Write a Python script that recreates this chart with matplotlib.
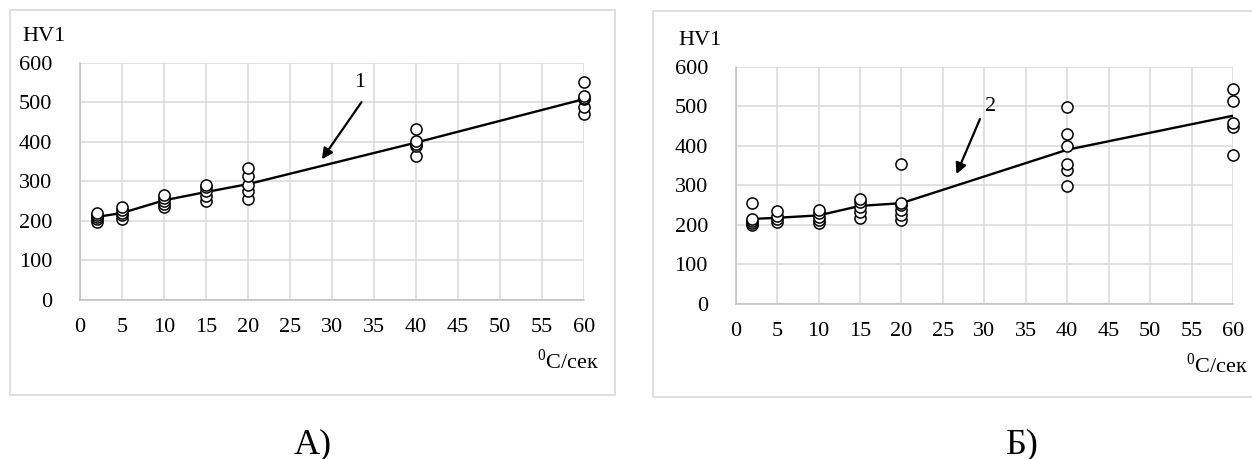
import matplotlib
matplotlib.use("Agg")
import matplotlib.pyplot as plt
from matplotlib.patches import Rectangle

plt.rcParams['font.family'] = ['serif']
plt.rcParams['font.serif'] = ['Liberation Serif', 'DejaVu Serif']
plt.rcParams['mathtext.fontset'] = 'custom'
plt.rcParams['mathtext.rm'] = 'Liberation Serif'

W, H = 1252, 459

# cooling rate, degC/sec
rates = [2, 5, 10, 15, 20, 40, 60]

# chart A: measured hardness at each rate and the mean curve
hv_a = [
    [198, 205, 210, 215, 220],
    [206, 215, 220, 228, 236],
    [236, 242, 250, 258, 265],
    [250, 262, 275, 285, 292],
    [255, 275, 292, 313, 333],
    [363, 390, 395, 402, 433],
    [470, 488, 508, 512, 517, 552],
]
mean_a = [210, 220, 252, 273, 293, 398, 508]

# chart B
hv_b = [
    [200, 205, 210, 215, 256],
    [208, 215, 222, 236],
    [205, 212, 220, 230, 238],
    [217, 233, 245, 257, 265],
    [212, 225, 238, 250, 255, 353],
    [299, 339, 354, 399, 430, 499],
    [377, 447, 457, 514, 543],
]
mean_b = [215, 218, 224, 248, 255, 390, 476]

xticks = list(range(0, 65, 5))
yticks = list(range(0, 700, 100))

fig = plt.figure(figsize=(W / 100, H / 100), dpi=100)
fig.patch.set_facecolor('white')


def box(l, t, r, b):
    return [l / W, 1 - b / H, (r - l) / W, (b - t) / H]


# light chart frames
fig.patches.append(Rectangle((10 / W, 1 - 395 / H), 605 / W, 385 / H,
                             transform=fig.transFigure, fill=False,
                             edgecolor='#d9d9d9', lw=1.2))
fig.patches.append(Rectangle((653 / W, 1 - 397 / H), 620 / W, 386 / H,
                             transform=fig.transFigure, fill=False,
                             edgecolor='#d9d9d9', lw=1.2))


def panel(rect, data, mean, label, arrow_xy, arrow_from, text_xy):
    ax = fig.add_axes(rect)
    ax.set_xlim(0, 60)
    ax.set_ylim(0, 600)
    ax.set_xticks(xticks)
    ax.set_yticks(yticks)
    ax.grid(True, color='#d9d9d9', lw=1.1)
    ax.set_axisbelow(True)
    for s in ['top', 'right']:
        ax.spines[s].set_visible(False)
    for s in ['left', 'bottom']:
        ax.spines[s].set_color('#bfbfbf')
        ax.spines[s].set_linewidth(1.1)
    ax.tick_params(length=0, labelsize=16, pad=13)
    ax.tick_params(axis='y', pad=20)
    ax.plot(rates, mean, color='black', lw=1.7, zorder=3)
    for x, ys in zip(rates, data):
        ax.plot([x] * len(ys), ys, 'o', ms=8, mfc='white', mec='black',
                mew=1.1, zorder=4, clip_on=False)
    ax.annotate('', xy=arrow_xy, xytext=arrow_from,
                arrowprops=dict(arrowstyle='-|>', color='black', lw=1.6,
                                mutation_scale=16))
    ax.text(text_xy[0], text_xy[1], label, fontsize=16, ha='center',
            va='center')
    ax.text(-0.115, 1.11, 'HV1', transform=ax.transAxes, fontsize=16,
            ha='left', va='center')
    ax.text(1.03, -0.26, r'$^{0}$C/сек', transform=ax.transAxes,
            fontsize=16, ha='right', va='center')
    return ax


panel(box(80, 62.7, 584, 300), hv_a, mean_a, '1',
      (28.6, 350), (33.7, 506), (33.3, 551))
panel(box(735.7, 66.7, 1233, 304), hv_b, mean_b, '2',
      (26.5, 322), (29.6, 474), (30.7, 499))

fig.text(313 / W, 1 - 445 / H, 'А)', fontsize=26, ha='center', va='center')
fig.text(1022 / W, 1 - 445 / H, 'Б)', fontsize=26, ha='center', va='center')

fig.savefig('out.png', dpi=100, facecolor='white')
